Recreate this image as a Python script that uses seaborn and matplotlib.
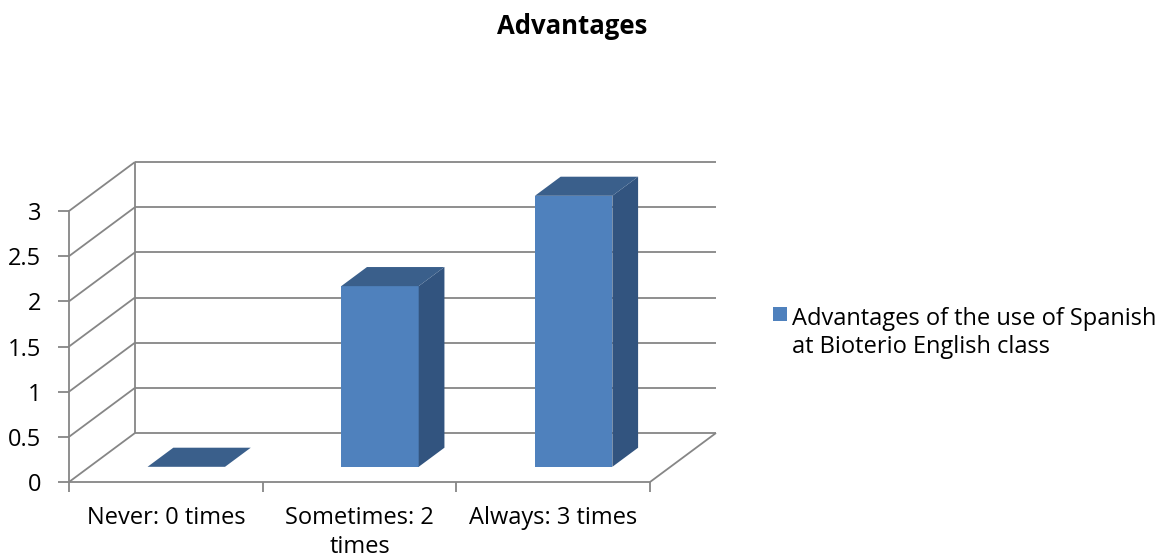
import textwrap
import matplotlib
matplotlib.use("Agg")
import matplotlib.pyplot as plt
from matplotlib.patches import Polygon, Rectangle
import pandas as pd
import seaborn as sns

# ---- data ----
categories = ["Never: 0 times", "Sometimes: 2 times", "Always: 3 times"]
values = [0, 2, 3]
series_name = "Advantages of the use of Spanish at Bioterio English class"
y_ticks = [0, 0.5, 1, 1.5, 2, 2.5, 3]
title = "Advantages"

# ---- style ----
sns.set_theme(style="white")
plt.rcParams["font.family"] = ["Open Sans", "DejaVu Sans"]
plt.rcParams["text.color"] = "black"

FRONT = "#4F81BD"
SIDE = "#32547F"
TOP = "#3A5F8B"
GRID = "#868686"
FS = 17

fig = plt.figure(figsize=(11.59, 5.6), dpi=100)
W, H = 1159, 560
ax = fig.add_axes([69 / W, (H - 482) / H, 581 / W, 271 / H])

df = pd.DataFrame({"category": categories, "value": values})
sns.barplot(data=df, x="category", y="value", color=FRONT, width=0.4,
            saturation=1, ax=ax, zorder=3, linewidth=0)

ax.set_xlim(-0.5, 2.5)
ax.set_ylim(0, 3)

# oblique projection: depth z in [0, 1] moves up/right in data units
DX = 66 / (581 / 3)
DY = 49 / (271 / 3)


def proj(x, y, z):
    return x + z * DX, y + z * DY


x0, x1 = ax.get_xlim()
gk = dict(color=GRID, lw=1.3, clip_on=False, zorder=1, solid_capstyle="butt")

# back wall gridlines and left wall diagonals
for v in y_ticks:
    bx0, by = proj(x0, v, 1)
    bx1, _ = proj(x1, v, 1)
    ax.plot([bx0, bx1], [by, by], **gk)
    ax.plot([x0, bx0], [v, by], **gk)
bx, by0 = proj(x0, y_ticks[0], 1)
_, by1 = proj(x0, y_ticks[-1], 1)
ax.plot([bx, bx], [by0, by1], **gk)
# right floor edge
rx, ry = proj(x1, 0, 1)
ax.plot([x1, rx], [0, ry], **gk)

# turn flat bars into prisms
Z0, Z1 = 0.31, 0.70
dz_x, dz_y = (Z1 - Z0) * DX, (Z1 - Z0) * DY
for bar in list(ax.patches):
    bx_, by_ = bar.get_x(), bar.get_y()
    w, h = bar.get_width(), bar.get_height()
    fx, fy = proj(bx_, by_, Z0)
    bar.set_x(fx)
    bar.set_y(fy)
    bar.set_clip_on(False)
    side = Polygon([(fx + w, fy), (fx + w, fy + h),
                    (fx + w + dz_x, fy + h + dz_y), (fx + w + dz_x, fy + dz_y)],
                   closed=True, facecolor=SIDE, edgecolor="none",
                   zorder=3, clip_on=False)
    top = Polygon([(fx, fy + h), (fx + w, fy + h),
                   (fx + w + dz_x, fy + h + dz_y), (fx + dz_x, fy + h + dz_y)],
                  closed=True, facecolor=TOP, edgecolor="none",
                  zorder=3, clip_on=False)
    ax.add_patch(side)
    ax.add_patch(top)

# axes / ticks
for s in ["top", "right"]:
    ax.spines[s].set_visible(False)
for s in ["left", "bottom"]:
    ax.spines[s].set_color(GRID)
    ax.spines[s].set_linewidth(1.3)
    ax.spines[s].set_zorder(2)

ax.set_yticks(y_ticks)
ax.set_yticklabels([f"{t:g}" for t in y_ticks])
ax.set_xticks([-0.5, 0.5, 1.5, 2.5])
ax.set_xticklabels([])
ax.set_xticks(range(len(categories)), minor=True)
ax.set_xticklabels([textwrap.fill(c, 15) for c in categories], minor=True)
ax.tick_params(axis="x", which="major", length=7, width=1.3, color=GRID,
               direction="out", bottom=True)
ax.tick_params(axis="x", which="minor", length=0, pad=17, labelsize=FS,
               labelcolor="black")
ax.tick_params(axis="y", length=8, width=1.3, color=GRID, direction="out",
               left=True, pad=12, labelsize=FS, labelcolor="black")
for lab in ax.get_xticklabels(minor=True):
    lab.set_linespacing(1.3)
ax.set_xlabel("")
ax.set_ylabel("")
ax.grid(False)

fig.text(572 / W, 1 - 26 / H, title, ha="center", va="center",
         fontsize=18.5, fontweight="bold", color="black")

# legend: swatch beside the first line of the series name
fig.patches.append(Rectangle((773 / W, 1 - 321 / H), 14 / W, 14 / H,
                             transform=fig.transFigure, facecolor=FRONT,
                             edgecolor="none"))
fig.text(792 / W, 1 - 353 / H, textwrap.fill(series_name, 33),
         ha="left", va="baseline", fontsize=FS, linespacing=1.2,
         color="black")

fig.savefig("out.png", dpi=100)
